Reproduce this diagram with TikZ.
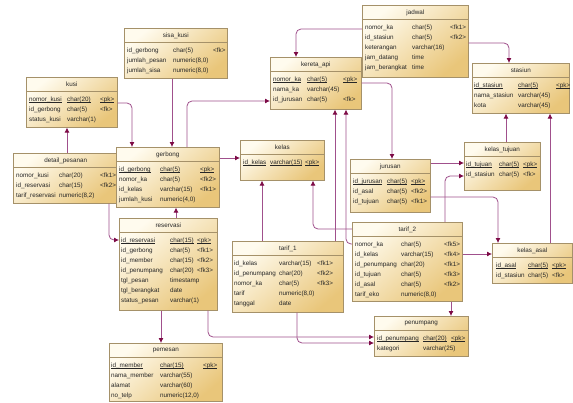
\documentclass[tikz,border=0pt]{standalone}
\usepackage{fontspec}
\setmainfont{Liberation Sans}
\usetikzlibrary{arrows.meta}
\definecolor{linec}{RGB}{160,80,140}
\definecolor{arrc}{RGB}{125,10,70}
\definecolor{boxd}{RGB}{165,145,105}
\definecolor{fillA}{RGB}{255,251,238}
\definecolor{fillB}{RGB}{233,198,122}
\newcommand\ul[1]{\setbox0=\hbox{#1}\rlap{\rule[-1.2pt]{\wd0}{0.4pt}}\box0}
\newcommand\tbl[6]{%
  \node[tbox, minimum width=#4pt, minimum height=#5pt, anchor=north west] (#1) at (#2,#3) {};
  \draw[sepl] ([yshift=-14pt]#1.north west) -- ([yshift=-14pt]#1.north east);
  \node[ttl] (#1t) at ([yshift=-7.5pt]#1.north) {#6};}
\newcommand\cols[3]{\def\xa{#1}\def\xb{#2}\def\xc{#3}}
\newcommand\rw[5]{%
  \node[cell] (#1a) at (\xa,{#2+2.2}) {#3};
  \node[cell] (#1b) at (\xb,{#2+2.2}) {#4};
  \node[cell] (#1c) at (\xc,{#2+2.2}) {#5};}
\newcommand\rt[4]{%
  \node[cell] (#1a) at (\xa,{#2+2.2}) {#3};
  \node[cell] (#1b) at (\xb,{#2+2.2}) {#4};}
\newcommand\pk[5]{%
  \node[cell] (#1a) at (\xa,{#2+2.2}) {\ul{#3}};
  \node[cell] (#1b) at (\xb,{#2+2.2}) {\ul{#4}};
  \node[cell] (#1c) at (\xc,{#2+2.2}) {\ul{#5}};}
\begin{document}
\begin{tikzpicture}[x=1pt,y=-1pt,
  tbox/.style={draw=boxd, line width=0.6pt, top color=fillA, bottom color=fillB, shading angle=40, inner sep=0pt},
  sepl/.style={draw=boxd, line width=0.5pt},
  ttl/.style={font=\fontsize{6.3}{7}\selectfont, text=black!85, inner sep=0pt},
  cell/.style={font=\fontsize{6.3}{7}\selectfont, text=black!85, anchor=base west, inner sep=0pt},
  ref/.style={draw=linec, line width=0.8pt, rounded corners=5pt, -{Latex[length=5pt,width=5pt,color=arrc]}}]
\fill[white] (0,0) rectangle (573,402);
\useasboundingbox (0,0) rectangle (573,402);

% jadwal
\tbl{jadwal}{362}{5}{106}{72}{jadwal}
\cols{365}{412}{450}
\rw{jd1}{27}{nomor\_ka}{char(5)}{<fk1>}
\rw{jd2}{37}{id\_stasiun}{char(5)}{<fk2>}
\rt{jd3}{47}{keterangan}{varchar(16)}
\rt{jd4}{57}{jam\_datang}{time}
\rt{jd5}{67}{jam\_berangkat}{time}

% sisa_kusi
\tbl{sisa}{124}{28}{103}{50}{sisa\_kusi}
\cols{127}{173}{213}
\rw{sk1}{50}{id\_gerbong}{char(5)}{<fk>}
\rt{sk2}{60}{jumlah\_pesan}{numeric(8,0)}
\rt{sk3}{70}{jumlah\_sisa}{numeric(8,0)}

% kusi
\tbl{kusi}{26}{77}{91}{50}{kusi}
\cols{29}{67}{100}
\pk{ku1}{99}{nomor\_kusi}{char(20)}{<pk>}
\rw{ku2}{109}{id\_gerbong}{char(5)}{<fk>}
\rt{ku3}{119}{status\_kusi}{varchar(1)}

% kereta_api
\tbl{kereta}{270}{57}{91}{52}{kereta\_api}
\cols{273}{307}{343}
\pk{ka1}{79}{nomor\_ka}{char(5)}{<pk>}
\rt{ka2}{89}{nama\_ka}{varchar(45)}
\rw{ka3}{99}{id\_jurusan}{char(5)}{<fk>}

% stasiun
\tbl{stasiun}{472}{63}{97}{50}{stasiun}
\cols{474}{518}{556}
\pk{st1}{85}{id\_stasiun}{char(5)}{<pk>}
\rt{st2}{95}{nama\_stasiun}{varchar(45)}
\rt{st3}{105}{kota}{varchar(45)}

% detail_pesanan
\tbl{detail}{13}{153}{105}{50}{detail\_pesanan}
\cols{16}{59}{100}
\rw{dp1}{175}{nomor\_kusi}{char(20)}{<fk1>}
\rw{dp2}{185}{id\_reservasi}{char(15)}{<fk2>}
\rt{dp3}{195}{tarif\_reservasi}{numeric(8,2)}

% gerbong
\tbl{gerbong}{116}{147}{103}{60}{gerbong}
\cols{119}{160}{200}
\pk{gb1}{169}{id\_gerbong}{char(5)}{<pk>}
\rw{gb2}{179}{nomor\_ka}{char(5)}{<fk2>}
\rw{gb3}{189}{id\_kelas}{varchar(15)}{<fk1>}
\rt{gb4}{199}{jumlah\_kusi}{numeric(4,0)}

% kelas
\tbl{kelas}{240}{140}{84}{40}{kelas}
\cols{243}{270}{305}
\pk{kl1}{162}{id\_kelas}{varchar(15)}{<pk>}

% jurusan
\tbl{jurusan}{350}{159}{80}{53}{jurusan}
\cols{353}{387}{411}
\pk{ju1}{181}{id\_jurusan}{char(5)}{<pk>}
\rw{ju2}{191}{id\_asal}{char(5)}{<fk2>}
\rw{ju3}{201}{id\_tujuan}{char(5)}{<fk1>}

% kelas_tujuan
\tbl{ktujuan}{464}{142}{76}{48}{kelas\_tujuan}
\cols{466}{499}{523}
\pk{kt1}{164}{id\_tujuan}{char(5)}{<pk>}
\rw{kt2}{174}{id\_stasiun}{char(5)}{<fk>}

% reservasi
\tbl{reservasi}{119}{218}{98}{92}{reservasi}
\cols{121}{170}{197}
\pk{rs1}{240}{id\_reservasi}{char(15)}{<pk>}
\rw{rs2}{250}{id\_gerbong}{char(5)}{<fk1>}
\rw{rs3}{260}{id\_member}{char(15)}{<fk2>}
\rw{rs4}{270}{id\_penumpang}{char(20)}{<fk3>}
\rt{rs5}{280}{tgl\_pesan}{timestamp}
\rt{rs6}{290}{tgl\_berangkat}{date}
\rt{rs7}{300}{status\_pesan}{varchar(1)}

% tarif_1
\tbl{tarif1}{232}{241}{111}{71}{tarif\_1}
\cols{234}{279}{317}
\rw{ta1}{263}{id\_kelas}{varchar(15)}{<fk1>}
\rw{ta2}{273}{id\_penumpang}{char(20)}{<fk2>}
\rw{ta3}{283}{nomor\_ka}{char(5)}{<fk3>}
\rt{ta4}{293}{tarif}{numeric(8,0)}
\rt{ta5}{303}{tanggal}{date}

% tarif_2
\tbl{tarif2}{352}{222}{110}{79}{tarif\_2}
\cols{355}{401}{444}
\rw{tb1}{244}{nomor\_ka}{char(5)}{<fk5>}
\rw{tb2}{254}{id\_kelas}{varchar(15)}{<fk4>}
\rw{tb3}{264}{id\_penumpang}{char(20)}{<fk1>}
\rw{tb4}{274}{id\_tujuan}{char(5)}{<fk3>}
\rw{tb5}{284}{id\_asal}{char(5)}{<fk2>}
\rt{tb6}{294}{tarif\_eko}{numeric(8,0)}

% kelas_asal
\tbl{kasal}{492}{243}{80}{40}{kelas\_asal}
\cols{496}{528}{552}
\pk{ks1}{265}{id\_asal}{char(5)}{<pk>}
\rw{ks2}{275}{id\_stasiun}{char(5)}{<fk>}

% penumpang
\tbl{penumpang}{374}{316}{94}{40}{penumpang}
\cols{377}{423}{451}
\pk{pn1}{338}{id\_penumpang}{char(20)}{<pk>}
\rt{pn2}{348}{kategori}{varchar(25)}

% pemesan
\tbl{pemesan}{109}{343}{113}{58}{pemesan}
\cols{111}{160}{203}
\pk{pm1}{365}{id\_member}{char(15)}{<pk>}
\rt{pm2}{375}{nama\_member}{varchar(55)}
\rt{pm3}{385}{alamat}{varchar(60)}
\rt{pm4}{395}{no\_telp}{numeric(12,0)}

% references
\draw[ref] (sisa.south -| 172,0) -- (gerbong.north -| 172,0);
\draw[ref] (kusi.east |- 0,103) -| (gerbong.north -| 132,0);
\draw[ref] (gerbong.north -| 187,0) |- (kereta.west |- 0,101);
\draw[ref] (jadwal.west |- 0,29) -| (kereta.north -| 296,0);
\draw[ref] (jadwal.east |- 0,43) -| (stasiun.north -| 509,0);
\draw[ref] (kereta.east |- 0,83) -| (jurusan.north -| 392,0);
\draw[ref] (gerbong.east |- 0,158) -- (kelas.west |- 0,158);
\draw[ref] (jurusan.east |- 0,163) -- (ktujuan.west |- 0,163);
\draw[ref] (tarif2.north -| 445,0) |- (ktujuan.west |- 0,176);
\draw[ref] (jurusan.east |- 0,197) -| (kasal.north -| 498,0);
\draw[ref] (ktujuan.north -| 506,0) -- (stasiun.south -| 506,0);
\draw[ref] (kasal.north -| 550,0) -- (stasiun.south -| 550,0);
\draw[ref] (tarif2.east |- 0,254) -- (kasal.west |- 0,254);
\draw[ref] (tarif2.south -| 451,0) -- (penumpang.north -| 451,0);
\draw[ref] (tarif2.west |- 0,229) -| (kelas.south -| 313,0);
\draw[ref] (tarif2.west |- 0,244) -| (kereta.south -| 346,0);
\draw[ref] (tarif1.north -| 262,0) -- (kelas.south -| 262,0);
\draw[ref] (tarif1.north -| 335,0) -- (kereta.south -| 335,0);
\draw[ref] (tarif1.south -| 297,0) |- (penumpang.west |- 0,343);
\draw[ref] (reservasi.south -| 208,0) |- (penumpang.west |- 0,337);
\draw[ref] (reservasi.south -| 161,0) -- (pemesan.north -| 161,0);
\draw[ref] (reservasi.north -| 176,0) -- (gerbong.south -| 176,0);
\draw[ref] (detail.north -| 67,0) -- (kusi.south -| 67,0);
\draw[ref] (detail.south -| 109,0) |- (reservasi.west |- 0,240);
\end{tikzpicture}
\end{document}
